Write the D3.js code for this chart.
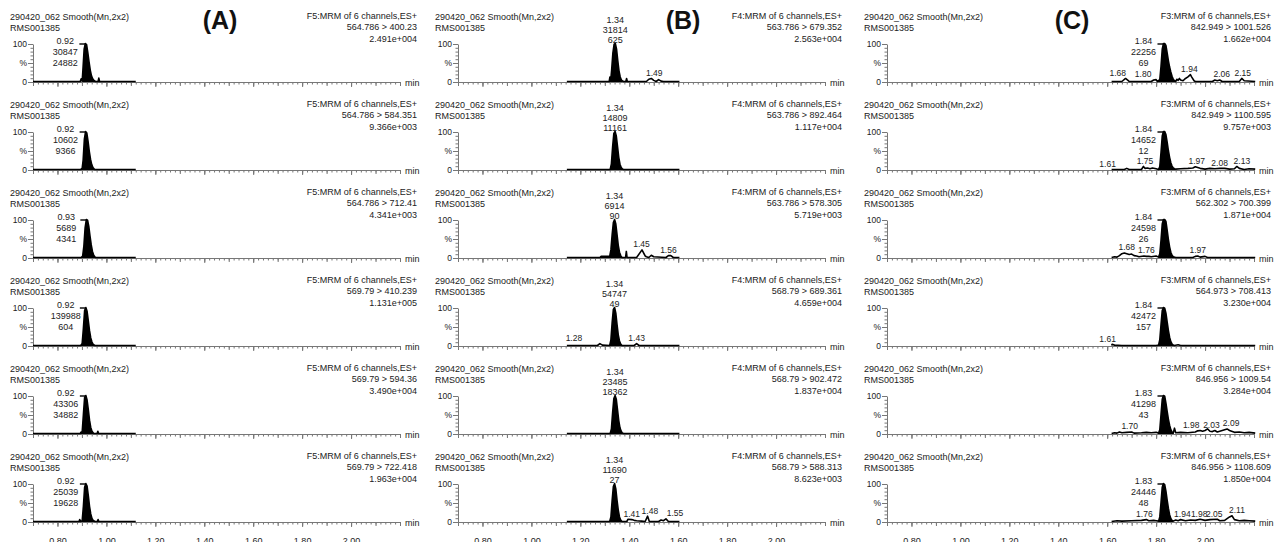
<!DOCTYPE html>
<html>
<head>
<meta charset="utf-8">
<script src="https://cdn.jsdelivr.net/npm/d3@7"></script>
<style>
  body { margin: 0; background: #fff; }
  svg { display: block; font-family: Arial, "Liberation Sans", sans-serif; }
  .txt { fill: #222; font-size: 9px; }
  .small { fill: #222; font-size: 8.5px; }
  .title { fill: #111; font-size: 25px; font-weight: bold; }
  .axis path, .axis line { stroke: #777; }
</style>
</head>
<body>
<svg id="chart" width="1274" height="542"></svg>
<script>
// ---- data ----
const panelTitles = ['(A)', '(B)', '(C)'];
const sampleName = '290420_062 Smooth(Mn,2x2)';
const sampleId = 'RMS001385';
const functionNames = ['F5:MRM of 6 channels,ES+', 'F4:MRM of 6 channels,ES+', 'F3:MRM of 6 channels,ES+'];

const transitions = [
  ['564.786 > 400.23', '564.786 > 584.351', '564.786 > 712.41', '569.79 > 410.239', '569.79 > 594.36', '569.79 > 722.418'],
  ['563.786 > 679.352', '563.786 > 892.464', '563.786 > 578.305', '568.79 > 689.361', '568.79 > 902.472', '568.79 > 588.313'],
  ['842.949 > 1001.526', '842.949 > 1100.595', '562.302 > 700.399', '564.973 > 708.413', '846.956 > 1009.54', '846.956 > 1108.609']
];
const maxIntensity = [
  ['2.491e+004', '9.366e+003', '4.341e+003', '1.131e+005', '3.490e+004', '1.963e+004'],
  ['2.563e+004', '1.117e+004', '5.719e+003', '4.659e+004', '1.837e+004', '8.623e+003'],
  ['1.662e+004', '9.757e+003', '1.871e+004', '3.230e+004', '3.284e+004', '1.850e+004']
];
const peakTimes = [
  ['0.92', '0.92', '0.93', '0.92', '0.92', '0.92'],
  ['1.34', '1.34', '1.34', '1.34', '1.34', '1.34'],
  ['1.84', '1.84', '1.84', '1.84', '1.83', '1.83']
];
const peakAreas = [
  ['30847', '10602', '5689', '139988', '43306', '25039'],
  ['31814', '14809', '6914', '54747', '23485', '11690'],
  ['22256', '14652', '24598', '42472', '41298', '24446']
];
const peakHeights = [
  ['24882', '9366', '4341', '604', '34882', '19628'],
  ['625', '11161', '90', '49', '18362', '27'],
  ['69', '12', '26', '157', '43', '48']
];
const minorPeaks = [
  [[], [], [], [], [], []],
  [['1.49'], [], ['1.45', '1.56'], ['1.28', '1.43'], [], ['1.41', '1.48', '1.55']],
  [['1.68', '1.80', '1.94', '2.06', '2.15'], ['1.61', '1.75', '1.97', '2.08', '2.13'], ['1.68', '1.76', '1.97'],
   ['1.61'], ['1.70', '1.98', '2.03', '2.09'], ['1.76', '1.94', '1.98', '2.05', '2.11']]
];

const timeRange = [0.70, 2.20];
const timeTickLabels = ['0.80', '1.00', '1.20', '1.40', '1.60', '1.80', '2.00'];
const yTicks = [0, 50, 100];
const yTickLabels = ['0', '%', '100'];

// traces: [time (min), relative intensity (%)]
const tracesA = [
  [[0.70,0],[0.893,0],[0.897,7],[0.901,1],[0.904,30],[0.909,85],[0.914,100],[0.919,97],[0.924,76],[0.929,52],[0.934,30],[0.939,15],[0.944,7],[0.949,3],[0.955,0],[0.966,0],[0.969,9],[0.972,0],[1.12,0]],
  [[0.70,0],[0.895,0],[0.901,3],[0.905,25],[0.910,80],[0.915,100],[0.920,96],[0.925,74],[0.930,48],[0.935,27],[0.940,13],[0.945,5],[0.952,0],[1.12,0]],
  [[0.70,0],[0.897,0],[0.903,4],[0.908,30],[0.913,78],[0.918,100],[0.923,98],[0.928,82],[0.933,56],[0.938,33],[0.943,16],[0.948,6],[0.955,0],[1.12,0]],
  [[0.70,0],[0.895,0],[0.901,5],[0.906,45],[0.911,92],[0.916,100],[0.921,90],[0.926,65],[0.931,39],[0.936,20],[0.941,9],[0.946,3],[0.953,0],[1.12,0]],
  [[0.70,0],[0.893,0],[0.897,4],[0.901,3],[0.906,50],[0.911,95],[0.916,100],[0.921,88],[0.926,63],[0.931,35],[0.936,16],[0.941,6],[0.948,0],[0.962,0],[0.965,6],[0.968,0],[1.12,0]],
  [[0.70,0],[0.888,0],[0.891,5],[0.894,0],[0.901,2],[0.906,40],[0.911,90],[0.916,100],[0.921,93],[0.926,68],[0.931,40],[0.936,20],[0.941,8],[0.946,3],[0.953,0],[0.963,0],[0.966,5],[0.969,0],[1.12,0]]
];
const tracesB = [
  [[1.145,0],[1.318,0],[1.321,12],[1.324,2],[1.328,30],[1.333,75],[1.338,98],[1.343,100],[1.348,85],[1.353,55],[1.358,28],[1.363,12],[1.368,4],[1.373,1],[1.378,0],[1.386,0],[1.389,8],[1.392,0],[1.47,0],[1.48,6],[1.49,8],[1.50,3],[1.51,0],[1.52,5],[1.53,1],[1.54,0],[1.605,0]],
  [[1.145,0],[1.322,0],[1.327,15],[1.332,60],[1.337,95],[1.342,100],[1.347,88],[1.352,60],[1.357,32],[1.362,14],[1.367,5],[1.372,1],[1.377,0],[1.605,0]],
  [[1.145,0],[1.28,0],[1.285,3],[1.32,3],[1.325,20],[1.330,60],[1.335,92],[1.340,100],[1.345,88],[1.350,60],[1.355,32],[1.360,14],[1.365,5],[1.370,0],[1.385,0],[1.388,16],[1.391,0],[1.43,0],[1.452,20],[1.465,4],[1.47,2],[1.48,0],[1.49,6],[1.50,2],[1.55,0],[1.56,5],[1.57,5],[1.58,0],[1.605,0]],
  [[1.145,0],[1.27,0],[1.28,5],[1.29,1],[1.32,0],[1.325,15],[1.33,60],[1.335,95],[1.34,100],[1.345,85],[1.35,55],[1.355,28],[1.36,12],[1.365,4],[1.37,0],[1.42,0],[1.43,5],[1.44,0],[1.605,0]],
  [[1.145,0],[1.322,0],[1.327,12],[1.332,55],[1.337,92],[1.342,100],[1.347,90],[1.352,62],[1.357,34],[1.362,15],[1.367,6],[1.372,1],[1.377,0],[1.605,0]],
  [[1.145,0],[1.32,0],[1.325,12],[1.33,55],[1.335,92],[1.34,100],[1.345,86],[1.35,56],[1.355,30],[1.36,12],[1.365,4],[1.37,0],[1.39,0],[1.395,6],[1.41,5],[1.42,3],[1.43,2],[1.45,1],[1.465,0],[1.475,14],[1.482,0],[1.52,0],[1.53,4],[1.54,2],[1.55,7],[1.56,0],[1.605,0]]
];
const tracesC = [
  [[1.618,0],[1.66,0],[1.675,8],[1.685,3],[1.69,0],[1.78,0],[1.79,4],[1.80,5],[1.805,0],[1.815,5],[1.82,40],[1.825,85],[1.83,100],[1.835,100],[1.84,95],[1.845,75],[1.85,55],[1.855,38],[1.86,25],[1.865,14],[1.87,6],[1.875,2],[1.88,0],[1.885,6],[1.89,3],[1.895,8],[1.90,4],[1.91,2],[1.92,8],[1.93,12],[1.94,18],[1.945,12],[1.955,2],[1.96,0],[2.03,0],[2.04,4],[2.05,2],[2.06,4],[2.07,0],[2.14,0],[2.15,8],[2.16,2],[2.205,0]],
  [[1.618,0],[1.67,0],[1.68,3],[1.69,0],[1.74,0],[1.748,8],[1.755,3],[1.765,4],[1.775,2],[1.785,4],[1.80,2],[1.81,0],[1.815,8],[1.82,45],[1.825,88],[1.83,100],[1.835,100],[1.84,92],[1.845,72],[1.85,50],[1.855,32],[1.86,18],[1.865,9],[1.87,4],[1.875,2],[1.88,1],[1.90,2],[1.93,3],[1.95,4],[1.96,7],[1.97,5],[1.98,3],[2.00,1],[2.02,3],[2.04,2],[2.06,3],[2.08,3],[2.10,1],[2.12,2],[2.13,8],[2.14,3],[2.16,0],[2.18,2],[2.205,1]],
  [[1.618,0],[1.63,2],[1.64,1],[1.65,5],[1.66,10],[1.67,12],[1.68,10],[1.69,8],[1.70,9],[1.71,5],[1.72,4],[1.73,2],[1.75,4],[1.76,3],[1.77,3],[1.78,2],[1.80,4],[1.81,1],[1.815,10],[1.82,45],[1.825,88],[1.83,100],[1.835,100],[1.84,95],[1.845,72],[1.85,48],[1.855,28],[1.86,14],[1.865,6],[1.87,2],[1.88,0],[1.95,0],[1.96,3],[1.97,4],[1.98,1],[2.00,3],[2.01,0],[2.205,0]],
  [[1.618,0],[1.62,3],[1.63,1],[1.66,0],[1.80,0],[1.81,1],[1.815,15],[1.82,55],[1.825,92],[1.83,100],[1.835,98],[1.84,85],[1.845,62],[1.85,40],[1.855,22],[1.86,10],[1.865,4],[1.87,1],[1.875,0],[1.89,2],[1.90,0],[2.205,0]],
  [[1.618,0],[1.63,2],[1.64,1],[1.65,4],[1.66,2],[1.68,3],[1.70,4],[1.71,1],[1.74,2],[1.76,3],[1.78,2],[1.80,3],[1.81,1],[1.815,10],[1.82,50],[1.825,90],[1.83,100],[1.835,98],[1.84,80],[1.845,58],[1.85,38],[1.855,22],[1.86,10],[1.865,4],[1.87,1],[1.875,14],[1.88,2],[1.90,3],[1.93,2],[1.96,4],[1.97,7],[1.98,8],[1.99,6],[2.00,8],[2.01,12],[2.02,6],[2.03,5],[2.04,8],[2.05,4],[2.06,6],[2.08,10],[2.09,12],[2.10,8],[2.12,3],[2.14,4],[2.16,2],[2.18,3],[2.205,1]],
  [[1.618,0],[1.64,2],[1.66,1],[1.70,2],[1.74,3],[1.76,5],[1.77,2],[1.79,3],[1.80,2],[1.81,1],[1.815,12],[1.82,50],[1.825,90],[1.83,100],[1.835,97],[1.84,80],[1.845,56],[1.85,35],[1.855,18],[1.86,8],[1.865,3],[1.87,1],[1.88,4],[1.89,2],[1.90,5],[1.92,2],[1.94,4],[1.96,3],[1.98,6],[2.00,3],[2.02,5],[2.05,6],[2.06,2],[2.08,3],[2.10,12],[2.11,15],[2.12,5],[2.14,2],[2.16,3],[2.18,2],[2.205,1]]
];
const traces = [tracesA, tracesB, tracesC];

// ---- layout ----
const svg = d3.select('#chart');
const colX = [33, 458, 887];      // left end of each time axis
const titleX = [220, 683, 1072];
const labelMode = ['side', 'above', 'side'];
// horizontal nudges (px) of the small peak labels, to keep them apart as in the print
const minorShift = [
  [[], [], [], [], [], []],
  [[3], [], [0, 0], [-26, 0], [], [0, 1, 9]],
  [[-9, -13, -1, 2, 1], [-2, 1, -1, -5, 5], [0, 0, 0], [-2], [-2, -9, -1, 4], [-2, -8, -1, -3, 5]]
];
const rowH = 88;
const axisW = 367;

const x = d3.scaleLinear().domain(timeRange).range([0, axisW]);
const y = d3.scaleLinear().domain([0, 100]).range([82, 44]);

const line = d3.line().x(d => x(d[0])).y(d => y(d[1]) - 0.5);
const area = d3.area().x(d => x(d[0])).y0(y(0)).y1(d => y(d[1]) - 0.5);

// panel titles
svg.selectAll('text.title')
  .data(panelTitles)
  .join('text')
  .attr('class', 'title')
  .attr('x', (d, i) => titleX[i])
  .attr('y', 29)
  .attr('text-anchor', 'middle')
  .text(d => d);

const minorT = d3.range(0, 76).map(i => +(timeRange[0] + i * 0.02).toFixed(2));
const midT = d3.range(0, 16).map(i => +(timeRange[0] + i * 0.1).toFixed(2));
const majorT = timeTickLabels.map(Number);

traces.forEach((col, c) => {
  col.forEach((trace, r) => {
    const g = svg.append('g').attr('transform', `translate(${colX[c]},${r * rowH})`);

    // headers
    g.append('text').attr('class', 'txt').attr('x', -23).attr('y', 20).text(sampleName);
    g.append('text').attr('class', 'txt').attr('x', -23).attr('y', 31).text(sampleId);
    const rh = g.append('g').attr('text-anchor', 'end');
    rh.append('text').attr('class', 'txt').attr('x', 384).attr('y', 19).text(functionNames[c]);
    rh.append('text').attr('class', 'txt').attr('x', 384).attr('y', 30).text(transitions[c][r]);
    rh.append('text').attr('class', 'txt').attr('x', 384).attr('y', 41.5).text(maxIntensity[c][r]);

    // y axis: minor + major ticks
    g.append('g').attr('class', 'axis')
      .call(d3.axisLeft(y).tickValues(d3.range(0, 101, 10)).tickSize(2.5).tickSizeOuter(0).tickFormat(''));
    const ya = g.append('g').attr('class', 'axis')
      .call(d3.axisLeft(y).tickValues(yTicks).tickSize(5).tickSizeOuter(0).tickPadding(1)
        .tickFormat((d, i) => yTickLabels[i]));
    ya.select('.domain').remove();
    ya.selectAll('text').attr('class', 'small').attr('font-family', null).attr('font-size', null);

    // x axis
    const xg = g.append('g').attr('class', 'axis').attr('transform', `translate(0,${y(0)})`);
    xg.append('g').call(d3.axisBottom(x).tickValues(minorT).tickSize(2.5).tickSizeOuter(0).tickFormat(''));
    xg.append('g').call(d3.axisBottom(x).tickValues(midT).tickSize(4).tickSizeOuter(0).tickFormat(''))
      .select('.domain').remove();
    const xm = xg.append('g').call(d3.axisBottom(x).tickValues(majorT).tickSize(5).tickSizeOuter(0)
      .tickPadding(11).tickFormat((d, i) => r === col.length - 1 ? timeTickLabels[i] : ''));
    xm.select('.domain').remove();
    xm.selectAll('text').attr('class', 'txt').attr('font-family', null).attr('font-size', null);
    g.append('text').attr('class', 'txt').attr('x', axisW + 5).attr('y', y(0) + 3.5).text('min');

    // main peak fill
    const ai = d3.maxIndex(trace, d => d[1]);
    let lo = ai, hi = ai;
    while (lo > 0 && trace[lo][1] > 1.5) lo--;
    while (hi < trace.length - 1 && trace[hi][1] > 1.5) hi++;
    g.append('path').datum(trace.slice(lo, hi + 1)).attr('d', area).attr('fill', '#000');

    // trace
    g.append('path').datum(trace).attr('d', line)
      .attr('fill', 'none').attr('stroke', '#000').attr('stroke-width', 1.6)
      .attr('stroke-linejoin', 'round');

    // apex labels
    const ax = x(trace[ai][0]);
    const lines = [peakTimes[c][r], peakAreas[c][r], peakHeights[c][r]];
    if (labelMode[c] === 'above') {
      g.selectAll(null).data(lines).join('text').attr('class', 'txt')
        .attr('text-anchor', 'middle').attr('x', ax).attr('y', (d, i) => y(100) - 21.5 + i * 10).text(d => d);
    } else {
      g.append('line').attr('x1', ax - 6).attr('x2', ax).attr('y1', y(100)).attr('y2', y(100))
        .attr('stroke', '#000').attr('stroke-width', 1.4);
      g.selectAll(null).data(lines).join('text').attr('class', 'txt')
        .attr('text-anchor', 'middle').attr('x', ax - 20).attr('y', (d, i) => y(100) + i * 11).text(d => d);
    }

    // minor peak labels
    minorPeaks[c][r].forEach((lbl, k) => {
      const t = +lbl;
      const near = trace.filter(d => Math.abs(d[0] - t) <= 0.012);
      const v = d3.max(near, d => d[1]) || 0;
      g.append('text').attr('class', 'small').attr('text-anchor', 'middle')
        .attr('x', x(t) + minorShift[c][r][k]).attr('y', y(v) - 3).text(lbl);
    });
  });
});
</script>
</body>
</html>
